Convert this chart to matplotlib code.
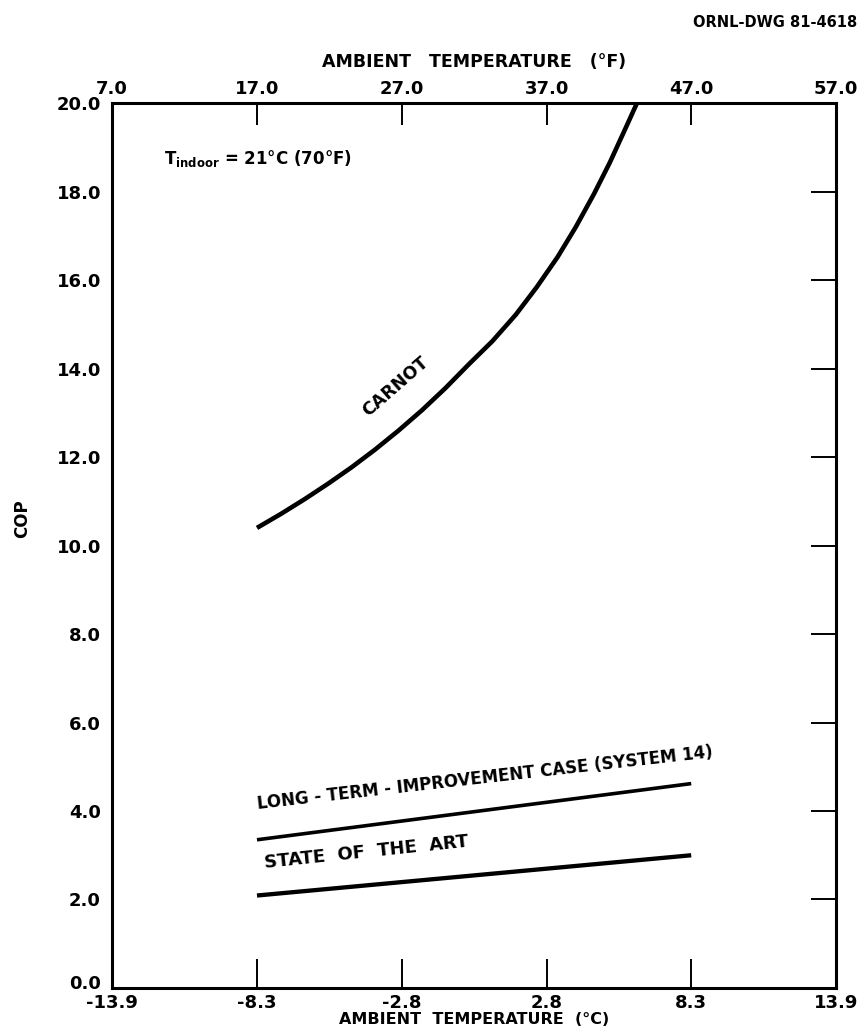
import matplotlib
matplotlib.use("Agg")
import matplotlib.pyplot as plt
from matplotlib.transforms import ScaledTranslation

# values (ambient temp in deg C, COP)
carnot_t = [-8.33, -7.4, -6.5, -5.6, -4.7, -3.8, -2.9, -2.0, -1.1, -0.2,
            0.7, 1.6, 2.4, 3.2, 3.9, 4.6, 5.2, 5.8, 6.4]
carnot_cop = [10.4, 10.72, 11.05, 11.4, 11.77, 12.17, 12.6, 13.06, 13.56, 14.1,
              14.62, 15.22, 15.84, 16.52, 17.2, 17.95, 18.65, 19.42, 20.2]

line_t = [-8.33, 8.33]
long_term_cop = [3.35, 4.62]
state_art_cop = [2.09, 3.0]

c_ticks = [-13.89, -8.33, -2.78, 2.78, 8.33, 13.89]
c_labels = ["-13.9", "-8.3", "-2.8", "2.8", "8.3", "13.9"]
f_ticks = [7.0, 17.0, 27.0, 37.0, 47.0, 57.0]
cop_ticks = [0, 2, 4, 6, 8, 10, 12, 14, 16, 18, 20]


def c_to_f(c):
    return c * 9.0 / 5.0 + 32.0


def f_to_c(f):
    return (f - 32.0) * 5.0 / 9.0


plt.rcParams['font.family'] = 'DejaVu Sans'
plt.rcParams['font.weight'] = 'bold'

fig = plt.figure(figsize=(8.62, 10.30), dpi=100)
ax = fig.add_axes([0.130, 0.0408, 0.840, 0.859])

ax.plot(carnot_t, carnot_cop, color='black', lw=3.3, solid_capstyle='butt')
ax.plot(line_t, long_term_cop, color='black', lw=2.6, solid_capstyle='butt')
ax.plot(line_t, state_art_cop, color='black', lw=3.1, solid_capstyle='butt')

ax.set_xlim(-13.89, 13.89)
ax.set_ylim(0, 20)
for s in ax.spines.values():
    s.set_linewidth(2.2)

ax.set_xticks(c_ticks, c_labels)
ax.tick_params(axis='x', direction='in', length=21, width=1.4, labelsize=13, pad=4)
ax.set_yticks(cop_ticks, ["%.1f" % v for v in cop_ticks])
ax.tick_params(axis='y', left=False, right=True, labelleft=True, direction='in',
               length=18, width=1.4, labelsize=13, pad=8)
# nudge the 0.0 label up a little so it clears -13.9
lab0 = ax.get_yticklabels()[0]
lab0.set_transform(lab0.get_transform() + ScaledTranslation(0, 4 / 72, fig.dpi_scale_trans))

ax.set_xlabel("AMBIENT  TEMPERATURE  (°C)", fontsize=11.5, fontweight='bold', labelpad=0)
ax.set_ylabel("COP", fontsize=12, fontweight='bold')
ax.yaxis.set_label_coords(-0.112, 0.53)

top = ax.secondary_xaxis('top', functions=(c_to_f, f_to_c))
top.set_xticks(f_ticks, ["%.1f" % v for v in f_ticks])
top.tick_params(direction='in', length=16, width=1.4, labelsize=13, pad=4)
top.set_xlabel("AMBIENT   TEMPERATURE   (°F)", fontsize=12.5, fontweight='bold', labelpad=9)

ax.text(-11.9, 18.75, r"T$_{\mathbf{indoor}}$ = 21°C (70°F)", fontsize=12,
        fontweight='bold', va='center', ha='left')
ax.text(-3.0, 13.6, "CARNOT", fontsize=12.5, fontweight='bold', rotation=41,
        ha='center', va='center')
ax.text(-8.3, 3.95, "LONG - TERM - IMPROVEMENT CASE (SYSTEM 14)", fontsize=12,
        fontweight='bold', rotation=6.5, rotation_mode='anchor', ha='left', va='bottom')
ax.text(-8.0, 2.62, "STATE  OF  THE  ART", fontsize=13, fontweight='bold',
        rotation=6, rotation_mode='anchor', ha='left', va='bottom')

fig.text(0.995, 0.978, "ORNL-DWG 81-4618", fontsize=10.5, fontweight='bold',
         ha='right', va='center')

fig.savefig("out.png", dpi=100)
